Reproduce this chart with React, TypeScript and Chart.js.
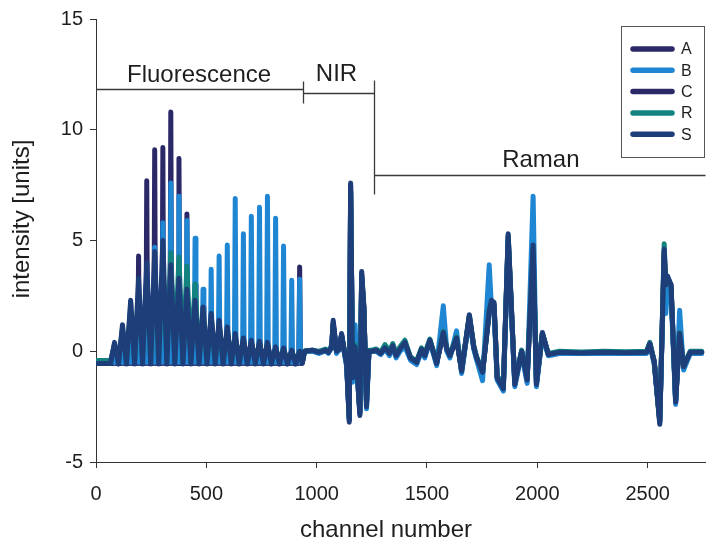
import React, { useEffect, useRef } from 'react';
import { Chart, registerables } from 'chart.js';

Chart.register(...registerables);

// ---- series meta ----
const seriesLabels = ['A', 'B', 'C', 'R', 'S'];
const seriesColors = ['#2b2868', '#1f86d4', '#2a2866', '#13837f', '#1e3e7a'];
const seriesDrawOrder = [3, 2, 4, 1, 0]; // lower = drawn on top

// ---- fluorescence region: narrow spikes (A, B) ----
const fluorNarrowChannels = [0, 66, 80, 84, 88, 116, 120, 124, 153, 157, 161, 189, 193, 197, 226, 230, 234, 262, 266, 270, 299, 303, 307, 335, 339, 343, 372, 376, 380, 408, 412, 416, 445, 449, 453, 481, 485, 489, 518, 522, 526, 554, 558, 562, 591, 595, 599, 627, 631, 635, 664, 668, 672, 700, 704, 708, 737, 741, 745, 773, 777, 781, 810, 814, 818, 846, 850, 854, 883, 887, 891, 919, 923, 927, 935];
const fluorA = [-0.55, -0.55,
  -0.55, 0.3, -0.55, -0.55, 1.0, -0.55, -0.55, 2.2, -0.55, -0.55, 4.3, -0.55,
  -0.55, 7.7, -0.55, -0.55, 9.1, -0.55, -0.55, 9.2, -0.55, -0.55, 10.8, -0.55,
  -0.55, 8.7, -0.55, -0.55, 6.2, -0.55, -0.55, 3.0, -0.55, -0.55, 2.0, -0.55,
  -0.55, 1.7, -0.55, -0.55, 1.4, -0.55, -0.55, 1.1, -0.55, -0.55, 0.8, -0.55,
  -0.55, 0.6, -0.55, -0.55, 0.5, -0.55, -0.55, 0.5, -0.55, -0.55, 0.4, -0.55,
  -0.55, 0.2, -0.55, -0.55, 0.2, -0.55, -0.55, 0.1, -0.55, -0.55, 3.8, -0.55,
  -0.5];
const fluorB = [-0.5, -0.5,
  -0.5, 0.2, -0.5, -0.5, 0.8, -0.5, -0.5, 1.5, -0.5, -0.5, 2.5, -0.5,
  -0.5, 3.4, -0.5, -0.5, 4.7, -0.5, -0.5, 5.8, -0.5, -0.5, 7.6, -0.5,
  -0.5, 7.0, -0.5, -0.5, 5.9, -0.5, -0.5, 5.1, -0.5, -0.5, 2.8, -0.5,
  -0.5, 3.7, -0.5, -0.5, 4.3, -0.5, -0.5, 4.8, -0.5, -0.5, 6.9, -0.5,
  -0.5, 5.3, -0.5, -0.5, 6.1, -0.5, -0.5, 6.5, -0.5, -0.5, 7.0, -0.5,
  -0.5, 6.0, -0.5, -0.5, 4.75, -0.5, -0.5, 3.2, -0.5, -0.5, 3.25, -0.5,
  -0.5];

// ---- fluorescence region: broad peaks (C, R, S) ----
const fluorWideChannels = [0, 66, 84, 102, 120, 138, 157, 175, 193, 211, 230, 248, 266, 284, 303, 321, 339, 357, 376, 394, 412, 430, 449, 467, 485, 503, 522, 540, 558, 576, 595, 613, 631, 649, 668, 686, 704, 722, 741, 759, 777, 795, 814, 832, 850, 868, 887, 905, 923, 935];
const fluorC = [-0.55, -0.55, 0.3, -0.55, 0.9, -0.55, 1.8, -0.55, 2.6, -0.55, 3.2, -0.55, 3.6, -0.55, 3.9, -0.55, 3.8, -0.55, 3.4, -0.55, 3.0, -0.55, 2.4, -0.55, 1.8, -0.55, 1.5, -0.55, 1.2, -0.55, 0.9, -0.55, 0.6, -0.55, 0.5, -0.55, 0.4, -0.55, 0.35, -0.55, 0.3, -0.55, 0.15, -0.55, 0.1, -0.55, 0.0, -0.55, 0.0, -0.5];
const fluorR = [-0.42, -0.42, 0.3, -0.45, 1.0, -0.45, 2.0, -0.45, 2.8, -0.45, 3.4, -0.45, 3.8, -0.45, 4.1, -0.45, 4.45, -0.45, 4.26, -0.45, 3.85, -0.45, 3.04, -0.45, 1.8, -0.45, 1.5, -0.45, 1.2, -0.45, 0.9, -0.45, 0.6, -0.45, 0.45, -0.45, 0.4, -0.45, 0.35, -0.45, 0.3, -0.45, 0.15, -0.45, 0.1, -0.45, 0.0, -0.45, 0.0, -0.45];
const fluorS = [-0.55, -0.55, 0.4, -0.58, 1.2, -0.58, 2.3, -0.58, 3.3, -0.58, 4.0, -0.58, 4.5, -0.58, 5.0, -0.58, 3.9, -0.58, 3.3, -0.58, 2.8, -0.58, 2.3, -0.58, 2.0, -0.58, 1.7, -0.58, 1.4, -0.58, 1.1, -0.58, 0.8, -0.58, 0.6, -0.58, 0.5, -0.58, 0.45, -0.58, 0.4, -0.58, 0.2, -0.58, 0.15, -0.58, 0.05, -0.58, 0.0, -0.55];

// ---- NIR + Raman region ----
const specChannels = [945, 980, 1010, 1040, 1053, 1068, 1075, 1090, 1102, 1113, 1124, 1136, 1148, 1154, 1163, 1174, 1184, 1196, 1204, 1214, 1226, 1237, 1250, 1270, 1290, 1310, 1330, 1345, 1360, 1378, 1400, 1425, 1453, 1475, 1490, 1513, 1544, 1574, 1590, 1604, 1634, 1657, 1692, 1712, 1725, 1752, 1782, 1792, 1804, 1818, 1846, 1868, 1898, 1929, 1954, 1981, 1996, 2023, 2050, 2100, 2200, 2300, 2400, 2495, 2510, 2530, 2555, 2575, 2582, 2590, 2606, 2627, 2645, 2663, 2693, 2745];
const specA = [0.0, 0.05, -0.05, 0.0, -0.05, 0.2, 1.3, 0.0, 0.1, 0.75, 0.1, -0.6, -3.1, 7.5, -1.2, 0.3, -1.0, -2.8, 3.5, 2.0, -2.4, 0.0, 0.0, 0.05, -0.1, 0.15, -0.1, 0.2, -0.2, 0.1, 0.35, -0.3, -0.5, 0.1, -0.2, 0.5, -0.55, 0.9, 0.1, -0.2, 0.6, -0.9, 1.6, 0.2, -0.3, -1.0, 1.9, 2.3, 2.1, -1.2, -1.7, 5.2, -1.5, 0.0, -1.3, 4.9, -1.5, 0.8, -0.15, -0.05, -0.08, -0.05, -0.07, -0.05, 0.35, -0.5, -3.2, 4.5, 3.0, 3.3, 3.0, -2.3, 0.8, -0.7, -0.05, -0.05];
const specB = [0.0, 0.0, -0.1, 0.05, -0.1, 0.3, 1.2, -0.1, 0.1, 0.7, 0.0, -0.7, -3.1, 7.3, -1.4, 1.2, -1.1, -2.8, 3.3, 1.8, -2.6, -0.05, 0.0, 0.0, -0.15, 0.1, -0.2, 0.2, -0.3, 0.0, 0.2, -0.4, -0.6, 0.0, -0.3, 0.45, -0.65, 2.05, 0.0, -0.3, 0.92, -1.0, 1.5, 0.1, -0.4, -1.33, 3.9, 2.0, 1.8, -1.3, -1.8, 5.0, -1.6, -0.1, -1.45, 7.0, -1.6, 0.7, -0.2, -0.1, -0.1, -0.1, -0.1, -0.1, 0.3, -0.6, -3.1, 4.0, 1.7, 2.8, 2.6, -2.4, 1.85, -0.85, -0.1, -0.1];
const specC = [0.0, 0.0, -0.05, 0.0, -0.05, 0.15, 1.2, 0.0, 0.05, 0.7, 0.05, -0.55, -3.0, 7.2, -1.1, 0.25, -0.9, -2.7, 3.3, 1.9, -2.3, 0.0, 0.0, 0.0, -0.1, 0.1, -0.1, 0.2, -0.2, 0.1, 0.3, -0.3, -0.45, 0.05, -0.2, 0.45, -0.5, 0.8, 0.05, -0.2, 0.55, -0.85, 1.5, 0.15, -0.3, -0.9, 1.7, 2.2, 2.0, -1.1, -1.6, 5.0, -1.4, 0.0, -1.2, 4.6, -1.4, 0.75, -0.15, -0.05, -0.08, -0.05, -0.07, -0.05, 0.3, -0.45, -3.1, 4.3, 2.9, 3.2, 2.9, -2.2, 0.75, -0.65, -0.05, -0.05];
const specR = [0.0, 0.05, 0.0, 0.1, 0.0, 0.2, 1.2, 0.05, 0.1, 0.7, 0.1, -0.5, -3.0, 7.2, -1.0, 0.3, -0.9, -2.7, 3.4, 1.9, -2.3, 0.05, 0.05, 0.1, -0.05, 0.3, 0.0, 0.35, -0.1, 0.2, 0.5, -0.25, -0.45, 0.15, -0.1, 0.55, -0.5, 0.9, 0.15, -0.15, 0.65, -0.8, 1.6, 0.25, -0.25, -0.9, 1.9, 2.2, 2.1, -1.1, -1.6, 5.2, -1.4, 0.05, -1.2, 4.6, -1.4, 0.8, -0.1, 0.0, -0.03, 0.0, -0.02, 0.0, 0.4, -0.45, -3.2, 4.85, 3.1, 3.3, 2.9, -2.2, 0.85, -0.6, 0.0, 0.0];
const specS = [0.0, 0.05, -0.05, 0.05, -0.05, 0.2, 1.4, 0.0, 0.1, 0.8, 0.1, -0.6, -3.2, 7.6, -1.2, 0.2, -1.0, -2.9, 3.6, 2.0, -2.5, 0.0, 0.0, 0.05, -0.1, 0.15, -0.1, 0.25, -0.2, 0.1, 0.4, -0.3, -0.5, 0.1, -0.2, 0.5, -0.55, 0.85, 0.1, -0.2, 0.6, -0.9, 1.65, 0.2, -0.3, -0.95, 1.8, 2.3, 2.2, -1.2, -1.7, 5.3, -1.5, 0.0, -1.3, 4.8, -1.5, 0.85, -0.15, -0.05, -0.08, -0.05, -0.07, -0.05, 0.35, -0.5, -3.3, 4.6, 3.0, 3.4, 3.0, -2.3, 0.8, -0.7, -0.05, -0.05];

const fluorChannelSets = [fluorNarrowChannels, fluorNarrowChannels, fluorWideChannels, fluorWideChannels, fluorWideChannels];
const fluorSeries = [fluorA, fluorB, fluorC, fluorR, fluorS];
const specSeries = [specA, specB, specC, specR, specS];

// ---- axes ----
const xMin = 0;
const xMax = 2760;
const xTickValues = [0, 500, 1000, 1500, 2000, 2500];
const yMin = -5;
const yMax = 15;
const yTickValues = [-5, 0, 5, 10, 15];
const xTitle = 'channel number';
const yTitle = 'intensity [units]';

// ---- region brackets (data units) ----
const bracketSegments = [
  [0, 11.86, 938, 11.86],
  [938, 11.2, 938, 12.2],
  [938, 11.66, 1260, 11.66],
  [1260, 7.1, 1260, 12.25],
  [1260, 7.94, 2760, 7.94],
];
const regionLabels = ['Fluorescence', 'NIR', 'Raman'];
const regionLabelX = [467, 1090, 2016];
const regionLabelY = [12.15, 12.18, 8.31];

const FONT = '"Liberation Sans", Arial, Helvetica, sans-serif';

const regionPlugin = {
  id: 'regionBrackets',
  afterDraw(chart: any) {
    const { ctx } = chart;
    const x = chart.scales.x;
    const y = chart.scales.y;
    ctx.save();
    ctx.strokeStyle = '#3a3a3a';
    ctx.lineWidth = 1.3;
    bracketSegments.forEach((s) => {
      ctx.beginPath();
      ctx.moveTo(Math.round(x.getPixelForValue(s[0])) + 0.5, Math.round(y.getPixelForValue(s[1])) + 0.5);
      ctx.lineTo(Math.round(x.getPixelForValue(s[2])) + 0.5, Math.round(y.getPixelForValue(s[3])) + 0.5);
      ctx.stroke();
    });
    ctx.fillStyle = '#1e1e1e';
    ctx.font = `24px ${FONT}`;
    ctx.textAlign = 'center';
    ctx.textBaseline = 'alphabetic';
    regionLabels.forEach((t, i) => {
      ctx.fillText(t, x.getPixelForValue(regionLabelX[i]), y.getPixelForValue(regionLabelY[i]));
    });
    ctx.restore();
  },
};

const legendPlugin = {
  id: 'boxLegend',
  afterDraw(chart: any) {
    const { ctx, chartArea } = chart;
    const left = chartArea.right - 84;
    const top = chartArea.top + 7;
    const w = 83;
    const h = 131;
    ctx.save();
    ctx.fillStyle = '#ffffff';
    ctx.fillRect(left, top, w, h);
    ctx.strokeStyle = '#555';
    ctx.lineWidth = 1;
    ctx.strokeRect(left + 0.5, top + 0.5, w, h);
    chart.data.datasets.forEach((ds: any, i: number) => {
      const cy = top + 23 + i * 21.3;
      ctx.strokeStyle = ds.borderColor;
      ctx.lineWidth = 5.5;
      ctx.lineCap = 'round';
      ctx.beginPath();
      ctx.moveTo(left + 12, cy);
      ctx.lineTo(left + 51, cy);
      ctx.stroke();
      ctx.fillStyle = '#1e1e1e';
      ctx.font = `16px ${FONT}`;
      ctx.textAlign = 'left';
      ctx.textBaseline = 'middle';
      ctx.fillText(ds.label, left + 60, cy + 1);
    });
    ctx.restore();
  },
};

const titlePlugin = {
  id: 'axisTitles',
  afterDraw(chart: any) {
    const { ctx, chartArea } = chart;
    ctx.save();
    ctx.fillStyle = '#1e1e1e';
    ctx.font = `24px ${FONT}`;
    ctx.textAlign = 'center';
    ctx.textBaseline = 'alphabetic';
    ctx.fillText(xTitle, chartArea.left + 290, chartArea.bottom + 75);
    ctx.translate(chartArea.left - 67, chartArea.top + 200);
    ctx.rotate(-Math.PI / 2);
    ctx.fillText(yTitle, 0, 0);
    ctx.restore();
  },
};

export default function App() {
  const canvasRef = useRef<HTMLCanvasElement | null>(null);

  useEffect(() => {
    document.body.style.margin = '0';
    const canvas = canvasRef.current;
    if (!canvas) return;

    const datasets = seriesLabels.map((label, i) => ({
      label,
      data: [
        ...fluorChannelSets[i].map((c, j) => ({ x: c, y: fluorSeries[i][j] })),
        ...specChannels.map((c, j) => ({ x: c, y: specSeries[i][j] })),
      ],
      borderColor: seriesColors[i],
      backgroundColor: seriesColors[i],
      borderWidth: 5,
      borderJoinStyle: 'round' as const,
      borderCapStyle: 'round' as const,
      pointRadius: 0,
      tension: 0,
      fill: false,
      order: seriesDrawOrder[i],
    }));

    const chart = new Chart(canvas, {
      type: 'line',
      data: { datasets },
      options: {
        animation: false,
        responsive: false,
        events: [],
        layout: { padding: { top: 18, right: 2, left: 0, bottom: 0 } },
        plugins: { legend: { display: false }, tooltip: { enabled: false } },
        scales: {
          x: {
            type: 'linear',
            min: xMin,
            max: xMax,
            afterBuildTicks: (s: any) => {
              s.ticks = xTickValues.map((v) => ({ value: v }));
            },
            afterFit: (s: any) => {
              s.height = 82;
            },
            ticks: {
              autoSkip: false,
              maxRotation: 0,
              minRotation: 0,
              padding: 14,
              color: '#1e1e1e',
              font: { family: FONT, size: 20 },
              callback: (v: any) => String(v),
            },
            grid: { drawOnChartArea: false, drawTicks: true, tickLength: 6, color: '#333' },
            border: { display: true, color: '#333', width: 1 },
          },
          y: {
            type: 'linear',
            min: yMin,
            max: yMax,
            afterBuildTicks: (s: any) => {
              s.ticks = yTickValues.map((v) => ({ value: v }));
            },
            afterFit: (s: any) => {
              s.width = 96;
            },
            ticks: {
              padding: 7,
              color: '#1e1e1e',
              font: { family: FONT, size: 20 },
              callback: (v: any) => String(v),
            },
            grid: { drawOnChartArea: false, drawTicks: true, tickLength: 6, color: '#333' },
            border: { display: true, color: '#333', width: 1 },
          },
        },
      },
      plugins: [regionPlugin, legendPlugin, titlePlugin],
    } as any);

    return () => chart.destroy();
  }, []);

  return (
    <div style={{ width: 707, height: 544, position: 'relative', background: '#fff' }}>
      <canvas ref={canvasRef} width={707} height={544} style={{ display: 'block' }} />
    </div>
  );
}
